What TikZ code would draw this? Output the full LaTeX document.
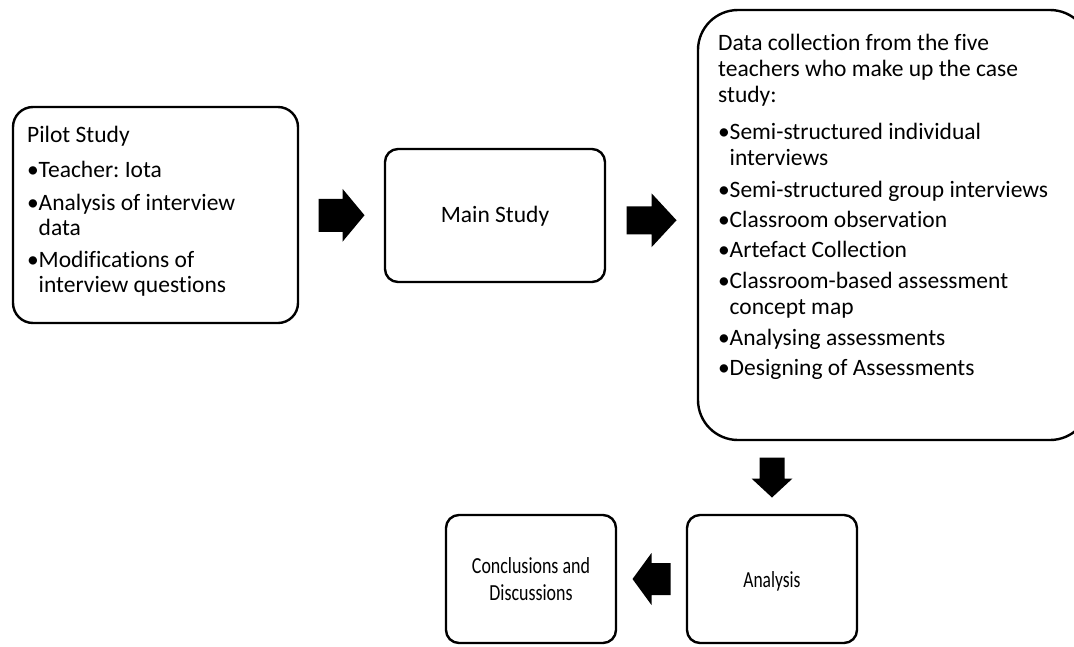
\documentclass[tikz,border=0pt]{standalone}
\usepackage{fontspec}
\usepackage{graphicx}
\setmainfont{Carlito}[Ligatures=NoCommon]
\usetikzlibrary{calc}
\frenchspacing
% bullet and hanging indent for list items
\newcommand\itm{\makebox[11.5pt][l]{•}}
\newcommand\cont{\hspace*{11.5pt}}
\begin{document}
\begin{tikzpicture}[x=1pt,y=-1pt,
  box/.style={draw=black, line width=2.4pt, fill=white, inner sep=0pt, rounded corners=#1},
  box/.default=13pt,
  listtext/.style={anchor=base west, inner sep=0pt},
  boxtext/.style={anchor=base, inner sep=0pt, font=\fontsize{23.5}{25}\selectfont},
  pics/blockarrow/.style n args={4}{code={
    \fill[black] (-#1/2,-#2/2) -- (#1/2-#4,-#2/2) -- (#1/2-#4,-#3/2) -- (#1/2,0)
      -- (#1/2-#4,#3/2) -- (#1/2-#4,#2/2) -- (-#1/2,#2/2) -- cycle;
  }}
]
\path[use as bounding box] (0,0) rectangle (1074,646);
\clip (0,0) rectangle (1074,646);

% boxes
\node[box=20pt, minimum width=285pt, minimum height=216pt] (pilot) at (155.5,215) {};
\node[box=13pt, minimum width=220pt, minimum height=133pt] (main) at (495,215.5) {};
\node[box=40pt, minimum width=392pt, minimum height=430pt] (big) at (894,225) {};
\node[box=13pt, minimum width=170pt, minimum height=128pt] (concl) at (531,579) {};
\node[box=13pt, minimum width=170pt, minimum height=128pt] (anal) at (772,579) {};

% box texts
\node[listtext, font=\fontsize{23.5}{25}\selectfont] (pilottext) at (27,142) {%
  \begin{tabular}[t]{@{}l@{}}
  Pilot Study\\[10pt]
  \itm Teacher: Iota\\[8pt]
  \itm Analysis of interview\\
  \cont data\\[7pt]
  \itm Modifications of\\
  \cont interview questions
  \end{tabular}};

\node[boxtext] (maintext) at (495,222) {Main Study};

\node[listtext, font=\fontsize{23.5}{26}\selectfont] (bigtext) at (718,50) {%
  \begin{tabular}[t]{@{}l@{}}
  Data collection from the five\\
  teachers who make up the case\\
  study:\\[11pt]
  \itm Semi-structured individual\\
  \cont interviews\\[6pt]
  \itm Semi-structured group interviews\\[4pt]
  \itm Classroom observation\\[4pt]
  \itm Artefact Collection\\[5pt]
  \itm Classroom-based assessment\\
  \cont concept map\\[5pt]
  \itm Analysing assessments\\[4pt]
  \itm Designing of Assessments
  \end{tabular}};

\node[boxtext, font=\fontsize{23}{27}\selectfont] (concltext) at (531,573) {%
  \scalebox{0.78}[1]{\begin{tabular}[t]{@{}c@{}}Conclusions and\\ Discussions\end{tabular}}};
\node[boxtext, font=\fontsize{23}{27}\selectfont] (analtext) at (772,587) {%
  \scalebox{0.76}[1]{Analysis}};

% block arrows between the stages
\pic at ($(pilot.east)!0.5!(main.west)$) {blockarrow={46}{33}{53}{22}};
\pic at ($(main.east)!0.5!(big.west)$) {blockarrow={50}{28}{54}{25}};
\pic[rotate=-90] at ($(big.south -| anal.north)!0.5!(anal.north)$) {blockarrow={40}{25}{41}{19}};
\pic[rotate=180] at ($(anal.west)!0.5!(concl.east)$) {blockarrow={38}{32}{52}{19}};
\end{tikzpicture}
\end{document}
